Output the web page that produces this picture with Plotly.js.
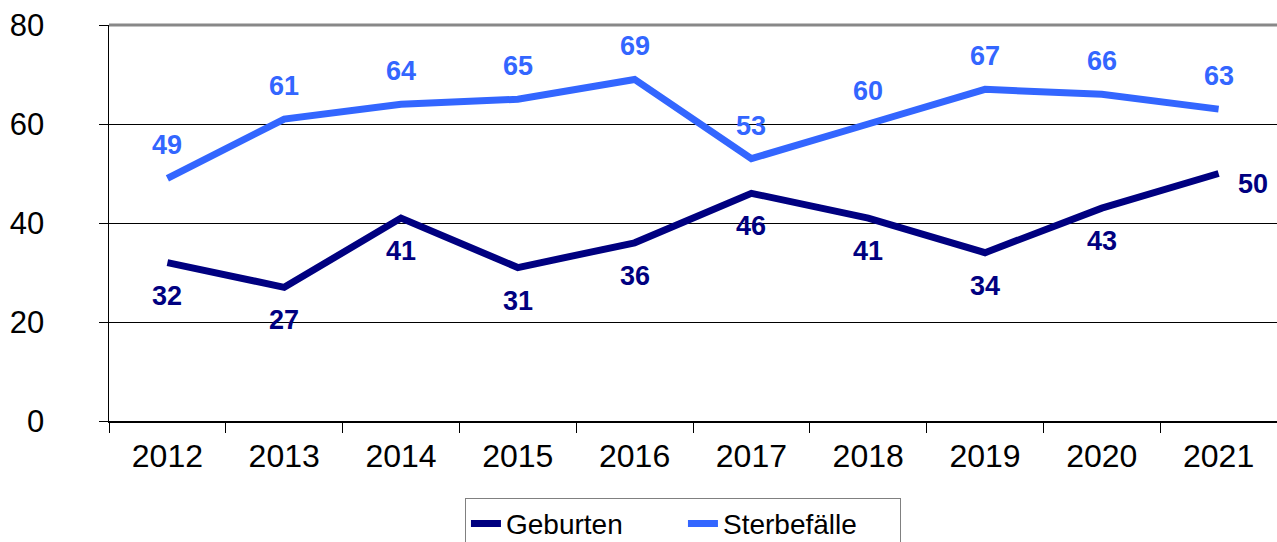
<!DOCTYPE html>
<html><head><meta charset="utf-8">
<script src="https://cdn.plot.ly/plotly-3.0.1.min.js"></script>
<style>html,body{margin:0;padding:0;background:#fff;overflow:hidden}#chart{width:1277px;height:542px}</style>
</head><body><div id="chart"></div>
<script>
const years = ['2012','2013','2014','2015','2016','2017','2018','2019','2020','2021'];
const geburten = [32,27,41,31,36,46,41,34,43,50];
const sterbefaelle = [49,61,64,65,69,53,60,67,66,63];
const yTicks = [0,20,40,60,80];

const navy = '#000080';
const blue = '#3366FF';
const font = 'Arial, "Liberation Sans", sans-serif';

const traces = [
  {x: years, y: geburten, name: 'Geburten', type: 'scatter', mode: 'lines',
   line: {color: navy, width: 7}, hoverinfo: 'skip'},
  {x: years, y: sterbefaelle, name: 'Sterbefälle', type: 'scatter', mode: 'lines',
   line: {color: blue, width: 7}, hoverinfo: 'skip'}
];

const annotations = [];
for (let i = 0; i < years.length; i++) {
  annotations.push({x: i, y: sterbefaelle[i], xref: 'x', yref: 'y', text: '<b>' + sterbefaelle[i] + '</b>',
    showarrow: false, yshift: 33, font: {family: font, size: 27, color: blue}});
  const last = i === years.length - 1;
  annotations.push({x: i, y: geburten[i], xref: 'x', yref: 'y', text: '<b>' + geburten[i] + '</b>',
    showarrow: false, yshift: last ? -10 : -33, xshift: last ? 34 : 0,
    font: {family: font, size: 27, color: navy}});
}

const layout = {
  width: 1277, height: 542,
  margin: {l: 109, r: 0, t: 25, b: 121, autoexpand: false},
  paper_bgcolor: '#fff', plot_bgcolor: '#fff',
  showlegend: true,
  legend: {orientation: 'h', x: 0.4914, xanchor: 'center', y: -0.194, yanchor: 'top',
    bordercolor: '#808080', borderwidth: 1, font: {family: font, size: 28, color: '#000'},
    entrywidth: 172, entrywidthmode: 'pixels'},
  xaxis: {type: 'category', range: [-0.5, 9.5], showgrid: false, showline: true,
    linecolor: '#000', linewidth: 1.5, ticks: 'outside', tickson: 'boundaries', ticklen: 10,
    tickcolor: '#000', tickfont: {family: font, size: 32, color: '#000'}, ticklabelstandoff: 6,
    zeroline: false, fixedrange: true},
  yaxis: {range: [0, 80], tickvals: yTicks, showgrid: true, gridcolor: '#000', gridwidth: 1,
    showline: true, linecolor: '#000', linewidth: 1.5, ticks: 'outside', ticklen: 9,
    tickcolor: '#000', tickfont: {family: font, size: 31, color: '#000'}, ticklabelstandoff: 48,
    zeroline: false, fixedrange: true},
  shapes: [{type: 'line', xref: 'paper', yref: 'paper', x0: 0, x1: 1, y0: 1, y1: 1,
    line: {color: '#888', width: 3}}],
  annotations: annotations
};

Plotly.newPlot('chart', traces, layout, {displayModeBar: false, staticPlot: true});
</script></body></html>
